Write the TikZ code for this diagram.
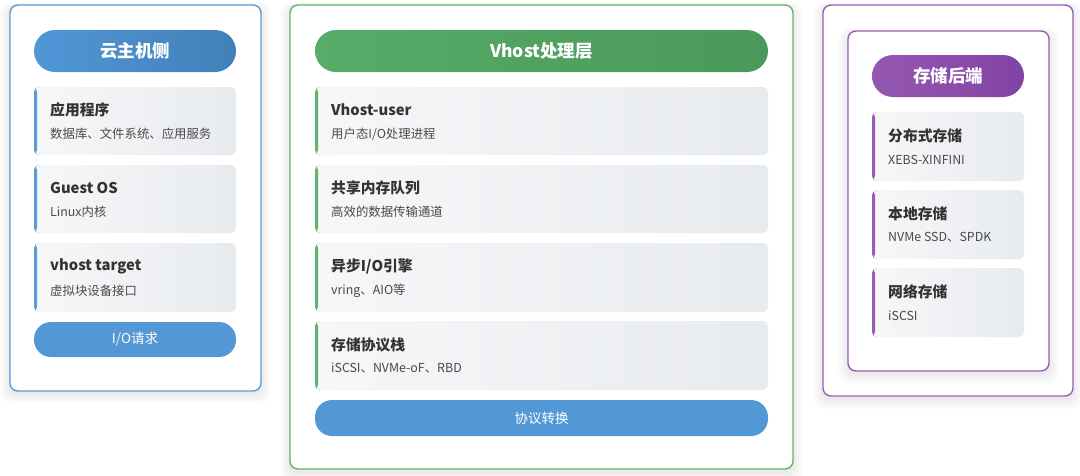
\documentclass[tikz,border=0pt]{standalone}
\usepackage{fontspec}
\setmainfont{Noto Sans CJK SC}
\usetikzlibrary{calc}
\definecolor{bluebd}{HTML}{5B9BD5}
\definecolor{blueA}{HTML}{5097D7}
\definecolor{blueB}{HTML}{4280B9}
\definecolor{pillblue}{HTML}{5398D6}
\definecolor{greenbd}{HTML}{62B36E}
\definecolor{greenA}{HTML}{58AB68}
\definecolor{greenB}{HTML}{4A995A}
\definecolor{purplebd}{HTML}{9B5CB8}
\definecolor{purpleA}{HTML}{9558B1}
\definecolor{purpleB}{HTML}{8143A4}
\definecolor{cardA}{HTML}{F6F7F9}
\definecolor{cardB}{HTML}{E8EBEE}
\definecolor{txt}{HTML}{333333}
\definecolor{subtxt}{HTML}{4A4A4A}
\tikzset{
  panel/.style={draw=#1, line width=1.4pt, fill=white, rounded corners=8pt, inner sep=0pt, outer sep=0pt},
  header/.style={rounded corners=21pt, inner sep=0pt, outer sep=0pt, text=white, font=\bfseries\fontsize{17.5}{20}\selectfont},
  pill/.style={fill=pillblue, rounded corners=17pt, inner sep=0pt, outer sep=0pt, text=white, font=\fontsize{13.5}{16}\selectfont},
  cardbox/.style={rectangle, rounded corners=5pt, inner sep=0pt, outer sep=0pt, left color=cardA, right color=cardB},
  cardtitle/.style={inner sep=0pt, text=txt, font=\bfseries\fontsize{14.8}{17}\selectfont},
  cardsub/.style={inner sep=0pt, text=subtxt, font=\fontsize{12.4}{15}\selectfont},
}
\newcommand\mkcard[8]{%
  \node[cardbox, minimum width={#4-#2}, minimum height={#5-#3}, anchor=north west,
        path picture={\fill[#6] (path picture bounding box.south west) rectangle ([xshift=3pt]path picture bounding box.north west);}]
        (#1) at (#2,#3) {};
  \node[cardtitle, anchor=west] (#1t) at ($(#1.west)+(16,-11)$) {#7};
  \node[cardsub, anchor=west] (#1s) at ($(#1.west)+(16,13)$) {#8};
}
\newcommand\mkshadow[4]{%
  \foreach \s in {1,...,10}{
    \fill[black, opacity=0.008, rounded corners=10pt] ($(#1,#2)+(-\s*1.0,-\s*0.6+3)$) rectangle ($(#3,#4)+(\s*1.0,\s*1.0+3)$);
  }
}
\begin{document}
\begin{tikzpicture}[x=1pt,y=-1pt]
\useasboundingbox (0,0) rectangle (1080,475);
\fill[white] (0,0) rectangle (1080,475);
% shadows
\mkshadow{10}{5}{261}{391}
\mkshadow{290}{5}{793}{469}
\mkshadow{823}{5}{1073}{396}
% panels
\node[panel=bluebd, minimum width=251pt, minimum height=386pt, anchor=north west] (left) at (10,5) {};
\node[panel=greenbd, minimum width=503pt, minimum height=464pt, anchor=north west] (mid) at (290,5) {};
\node[panel=purplebd, minimum width=250pt, minimum height=391pt, anchor=north west] (right) at (823,5) {};
\mkshadow{848}{31}{1049}{371}
\node[panel=purplebd, minimum width=201pt, minimum height=340pt, anchor=north west] (rightin) at (848,31) {};
% left
\node[header, left color=blueA, right color=blueB, minimum width=202pt, minimum height=42pt, anchor=north west] (lh) at (34,30) {云主机侧};
\mkcard{l1}{34}{87}{236}{155}{bluebd}{应用程序}{数据库、文件系统、应用服务}
\mkcard{l2}{34}{165}{236}{233}{bluebd}{Guest OS}{Linux内核}
\mkcard{l3}{34}{243}{236}{312}{bluebd}{vhost target}{虚拟块设备接口}
\node[pill, minimum width=202pt, minimum height=35pt, anchor=north west] (lp) at (34,322) {I/O请求};
% middle
\node[header, left color=greenA, right color=greenB, minimum width=453pt, minimum height=42pt, anchor=north west] (mh) at (315,30) {Vhost处理层};
\mkcard{m1}{315}{87}{768}{155}{greenbd}{Vhost-user}{用户态I/O处理进程}
\mkcard{m2}{315}{165}{768}{233}{greenbd}{共享内存队列}{高效的数据传输通道}
\mkcard{m3}{315}{243}{768}{312}{greenbd}{异步I/O引擎}{vring、AIO等}
\mkcard{m4}{315}{321}{768}{390}{greenbd}{存储协议栈}{iSCSI、NVMe-oF、RBD}
\node[pill, minimum width=453pt, minimum height=36pt, anchor=north west] (mp) at (315,400) {协议转换};
% right
\node[header, left color=purpleA, right color=purpleB, minimum width=152pt, minimum height=42pt, anchor=north west] (rh) at (872,55) {存储后端};
\mkcard{r1}{872}{112}{1024}{181}{purplebd}{分布式存储}{XEBS-XINFINI}
\mkcard{r2}{872}{190}{1024}{259}{purplebd}{本地存储}{NVMe SSD、SPDK}
\mkcard{r3}{872}{268}{1024}{337}{purplebd}{网络存储}{iSCSI}
\end{tikzpicture}
\end{document}
